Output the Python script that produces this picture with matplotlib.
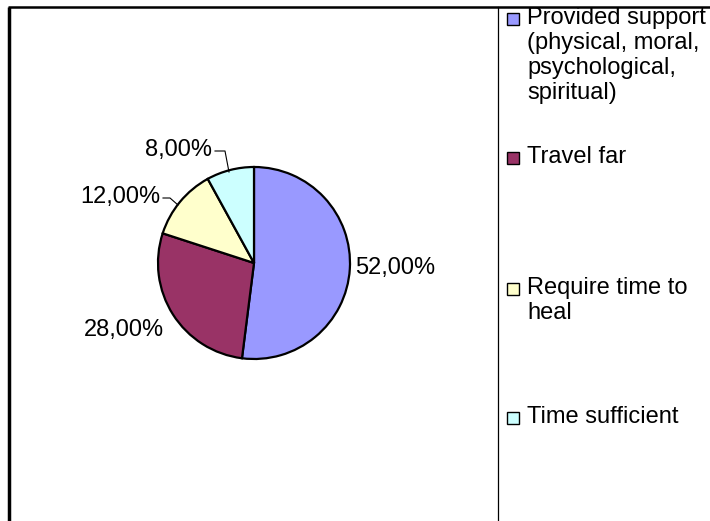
import matplotlib.pyplot as plt
from matplotlib.patches import Rectangle

# data
categories = ['Provided support\n(physical, moral,\npsychological,\nspiritual)',
              'Travel far', 'Require time to\nheal', 'Time sufficient']
shares = [52.0, 28.0, 12.0, 8.0]
colors = ['#9999FF', '#993366', '#FFFFCC', '#CCFFFF']

# layout (pixels from top-left)
W, H = 710, 521
pie_center = (254, 263)
pie_radius = 96
label_pos = [(355, 268, 'left'), (164, 330, 'right'), (160, 197, 'right'), (212, 150, 'right')]
leader_pts = [None, None,
              [(163, 198), (170, 198), (178, 205)],
              [(215, 151), (225, 151), (229, 172)]]
legend_y = [19, 158, 289, 418]

plt.rcParams['font.family'] = ['Liberation Sans', 'DejaVu Sans']
fs = 17

fig = plt.figure(figsize=(W / 100, H / 100), dpi=100)
ax = fig.add_axes([0, 0, 1, 1])

def fy(y):
    return H - y

ax.pie(shares, colors=colors, startangle=90, counterclock=False,
       center=(pie_center[0], fy(pie_center[1])), radius=pie_radius,
       wedgeprops=dict(edgecolor='black', linewidth=1.6), frame=True)
ax.set_xlim(0, W)
ax.set_ylim(0, H)
ax.set_aspect('equal')
ax.axis('off')

for v, (x, y, ha), pts in zip(shares, label_pos, leader_pts):
    ax.text(x, fy(y), f'{v:.2f}%'.replace('.', ','), fontsize=fs,
            ha=ha, va='center')
    if pts:
        ax.plot([p[0] for p in pts], [fy(p[1]) for p in pts],
                color='black', lw=0.8)

# frame
ax.plot([9, 9], [fy(7), 0], color='black', lw=2.5, solid_capstyle='butt')
ax.plot([8, W], [fy(7), fy(7)], color='black', lw=1.8, solid_capstyle='butt')
ax.plot([498, 498], [fy(7), 0], color='black', lw=0.9)

# legend
for lab, c, y in zip(categories, colors, legend_y):
    ax.add_patch(Rectangle((507, fy(y) - 6), 12, 12, facecolor=c,
                           edgecolor='black', lw=1.0))
    ax.text(527, fy(y) + 12, lab, fontsize=fs, ha='left', va='top',
            linespacing=1.17)

fig.savefig('out.png', dpi=100)
